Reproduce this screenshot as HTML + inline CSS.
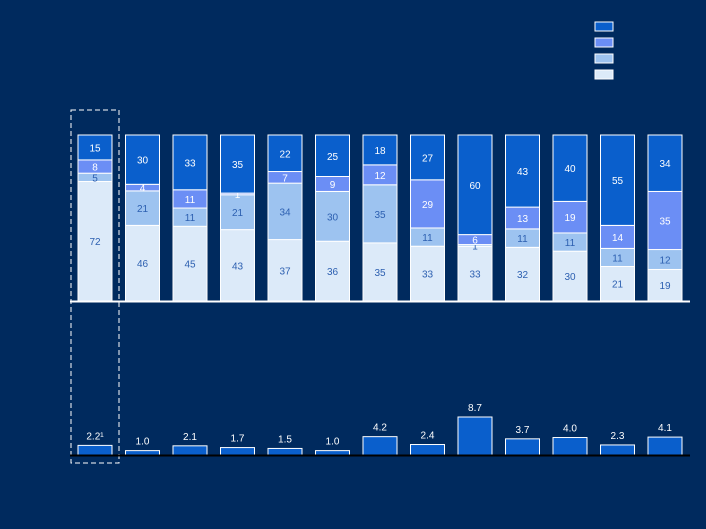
<!DOCTYPE html>
<html><head><meta charset="utf-8"><style>
html,body{margin:0;padding:0;background:#002A5E;}
svg{display:block;font-family:"Liberation Sans",sans-serif;}
</style></head><body>
<svg id="chart" width="706" height="529" viewBox="0 0 706 529" xmlns="http://www.w3.org/2000/svg">
<rect width="706" height="529" fill="#002A5E"/>
<g id="legend"></g>
<rect x="71" y="110" width="48" height="353" fill="none" stroke="#fff" stroke-dasharray="5,3" stroke-width="1"/>
<g id="stack"></g>
<g id="lower"></g>
<line x1="70" y1="301.5" x2="690" y2="301.5" stroke="#fff" stroke-width="2"/>
<line x1="70" y1="455.5" x2="690" y2="455.5" stroke="#000" stroke-width="2"/>
</svg>
<script>
const seriesBottom = [72,46,45,43,37,36,35,33,33,32,30,21,19];
const seriesLight  = [5,21,11,21,34,30,35,11,1,11,11,11,12];
const seriesMid    = [8,4,11,1,7,9,12,29,6,13,19,14,35];
const seriesTop    = [15,30,33,35,22,25,18,27,60,43,40,55,34];
const lowerValues  = [2.2,1.0,2.1,1.7,1.5,1.0,4.2,2.4,8.7,3.7,4.0,2.3,4.1];
const lowerLabels  = ["2.2","1.0","2.1","1.7","1.5","1.0","4.2","2.4","8.7","3.7","4.0","2.3","4.1"];

const NS="http://www.w3.org/2000/svg";
const colors=["#DCEAF9","#9DC3F0","#6B8EF5","#0A5FCC"];
const textColors=["#2C5FB0","#2C5FB0","#ffffff","#ffffff"];
const x=i=>78+i*47.5;
const bw=34;
const yTop=135, yBase=301;
const yScale=v=>v*(yBase-yTop)/100;
const lowBase=455;
const lScale=v=>v*38/8.7;
function mk(tag,attrs,parent){const e=document.createElementNS(NS,tag);for(const k in attrs)e.setAttribute(k,attrs[k]);parent.appendChild(e);return e;}

const legend=document.getElementById('legend');
[3,2,1,0].forEach((c,j)=>{
  const r=mk('rect',{x:595,y:22+j*16,width:18,height:9,fill:colors[c],stroke:'#fff','stroke-width':1},legend);
  
  
});

const stack=document.getElementById('stack');
const series=[seriesBottom,seriesLight,seriesMid,seriesTop];
seriesBottom.forEach((_,i)=>{
  const total=series.reduce((s,a)=>s+a[i],0);
  const k=(yBase-yTop)/total;
  let y=yBase;
  series.forEach((arr,s)=>{
    const h=arr[i]*k;
    const r=mk('rect',{x:x(i),y:y-h,width:bw,height:h,fill:colors[s],stroke:'#fff','stroke-width':1},stack);
    
    
    const t=mk('text',{x:x(i)+bw/2,y:y-h/2+4,'text-anchor':'middle','font-size':10,fill:textColors[s]},stack);
    t.textContent=arr[i];
    
    
    y-=h;
  });
});

const lower=document.getElementById('lower');
lowerValues.forEach((v,i)=>{
  const h=lScale(v);
  const r=mk('rect',{x:x(i),y:lowBase-h,width:bw,height:h,fill:'#0A5FCC',stroke:'#fff','stroke-width':1},lower);
  
  
  const t=mk('text',{x:x(i)+bw/2,y:lowBase-h-6,'text-anchor':'middle','font-size':10,fill:'#fff'},lower);
  t.textContent=lowerLabels[i]+(i===0?'¹':'');
  
  
});
</script>
</body></html>
